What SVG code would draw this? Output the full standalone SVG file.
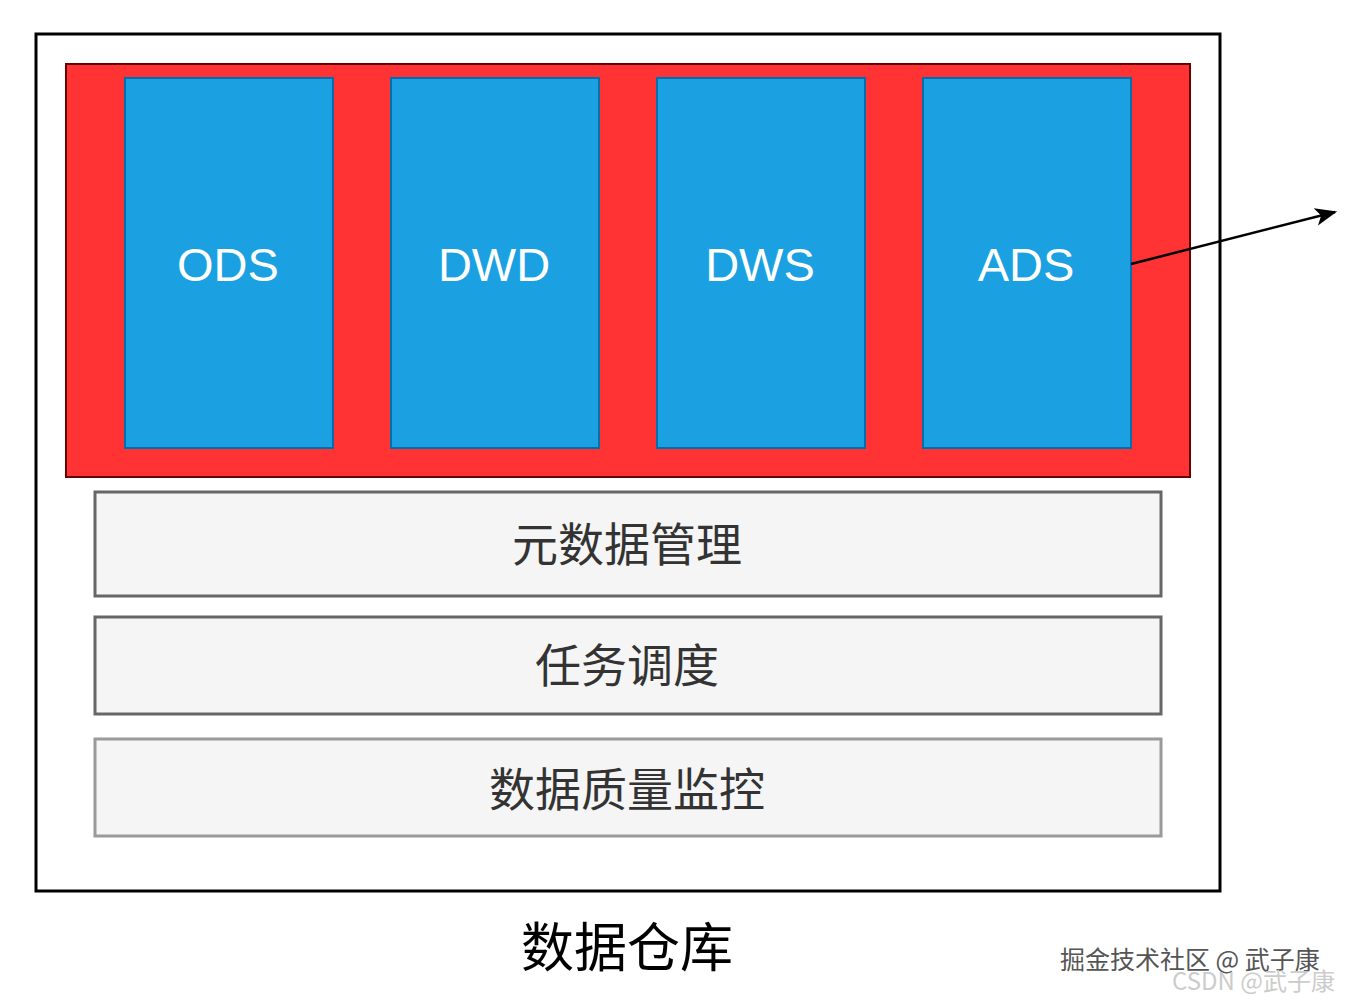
<svg xmlns="http://www.w3.org/2000/svg" width="1346" height="1002" viewBox="0 0 1346 1002">
<style>
.layer{fill:#1ba1e2;stroke:#006eaf;stroke-width:2}
.lt{font-family:"Liberation Sans",Arial,sans-serif;font-size:47px;fill:#ffffff;text-anchor:middle}
.bar{fill:#f5f5f5;stroke:#666666;stroke-width:3}
.bt{font-family:"Noto Sans CJK SC","Liberation Sans",sans-serif;font-size:46px;fill:#333333;text-anchor:middle}
</style>
<defs>
<marker id="arrow" viewBox="0 0 20 20" refX="18" refY="10" markerWidth="22" markerHeight="22" markerUnits="userSpaceOnUse" orient="auto">
<path d="M0,2 L20,10 L0,18 L5,10 Z" fill="#000"/>
</marker>
</defs>
<rect width="1346" height="1002" fill="#ffffff"/>
<g id="warehouse">
<rect x="36" y="34" width="1184" height="857" fill="#ffffff" stroke="#000000" stroke-width="3"/>
<text x="627" y="967" font-family="'Noto Sans CJK SC','Liberation Sans',sans-serif" font-size="53" fill="#000" text-anchor="middle">数据仓库</text>
</g>
<g id="layers">
<rect x="66" y="64" width="1124" height="413" fill="#ff3333" stroke="#660000" stroke-width="2"/>
</g>
<g id="ods"><rect class="layer" x="125" y="78" width="208" height="370"/><text class="lt" x="228" y="281">ODS</text></g>
<g id="dwd"><rect class="layer" x="391" y="78" width="208" height="370"/><text class="lt" x="494" y="281">DWD</text></g>
<g id="dws"><rect class="layer" x="657" y="78" width="208" height="370"/><text class="lt" x="760" y="281">DWS</text></g>
<g id="ads"><rect class="layer" x="923" y="78" width="208" height="370"/><text class="lt" x="1026" y="281">ADS</text></g>
<g id="metadata"><rect class="bar" x="95" y="492" width="1066" height="104"/><text class="bt" x="627" y="561">元数据管理</text></g>
<g id="schedule"><rect class="bar" x="95" y="617" width="1066" height="97"/><text class="bt" x="627" y="682">任务调度</text></g>
<g id="quality"><rect class="bar" x="95" y="739" width="1066" height="97" style="stroke:#9a9a9a"/><text class="bt" x="627" y="806">数据质量监控</text></g>
<g id="connectors">
<line x1="1131" y1="264" x2="1335" y2="212" stroke="#000" stroke-width="2.5" marker-end="url(#arrow)"/>
</g>
<g id="watermark">
<text x="1060" y="969" font-family="'Noto Sans CJK SC',sans-serif" font-size="25" fill="#555555">掘金技术社区 @ 武子康</text>
<text x="1172" y="990" font-family="'Noto Sans CJK SC','Liberation Sans',sans-serif" font-size="24" fill="#cccccc">CSDN @武子康</text>
</g>
</svg>
